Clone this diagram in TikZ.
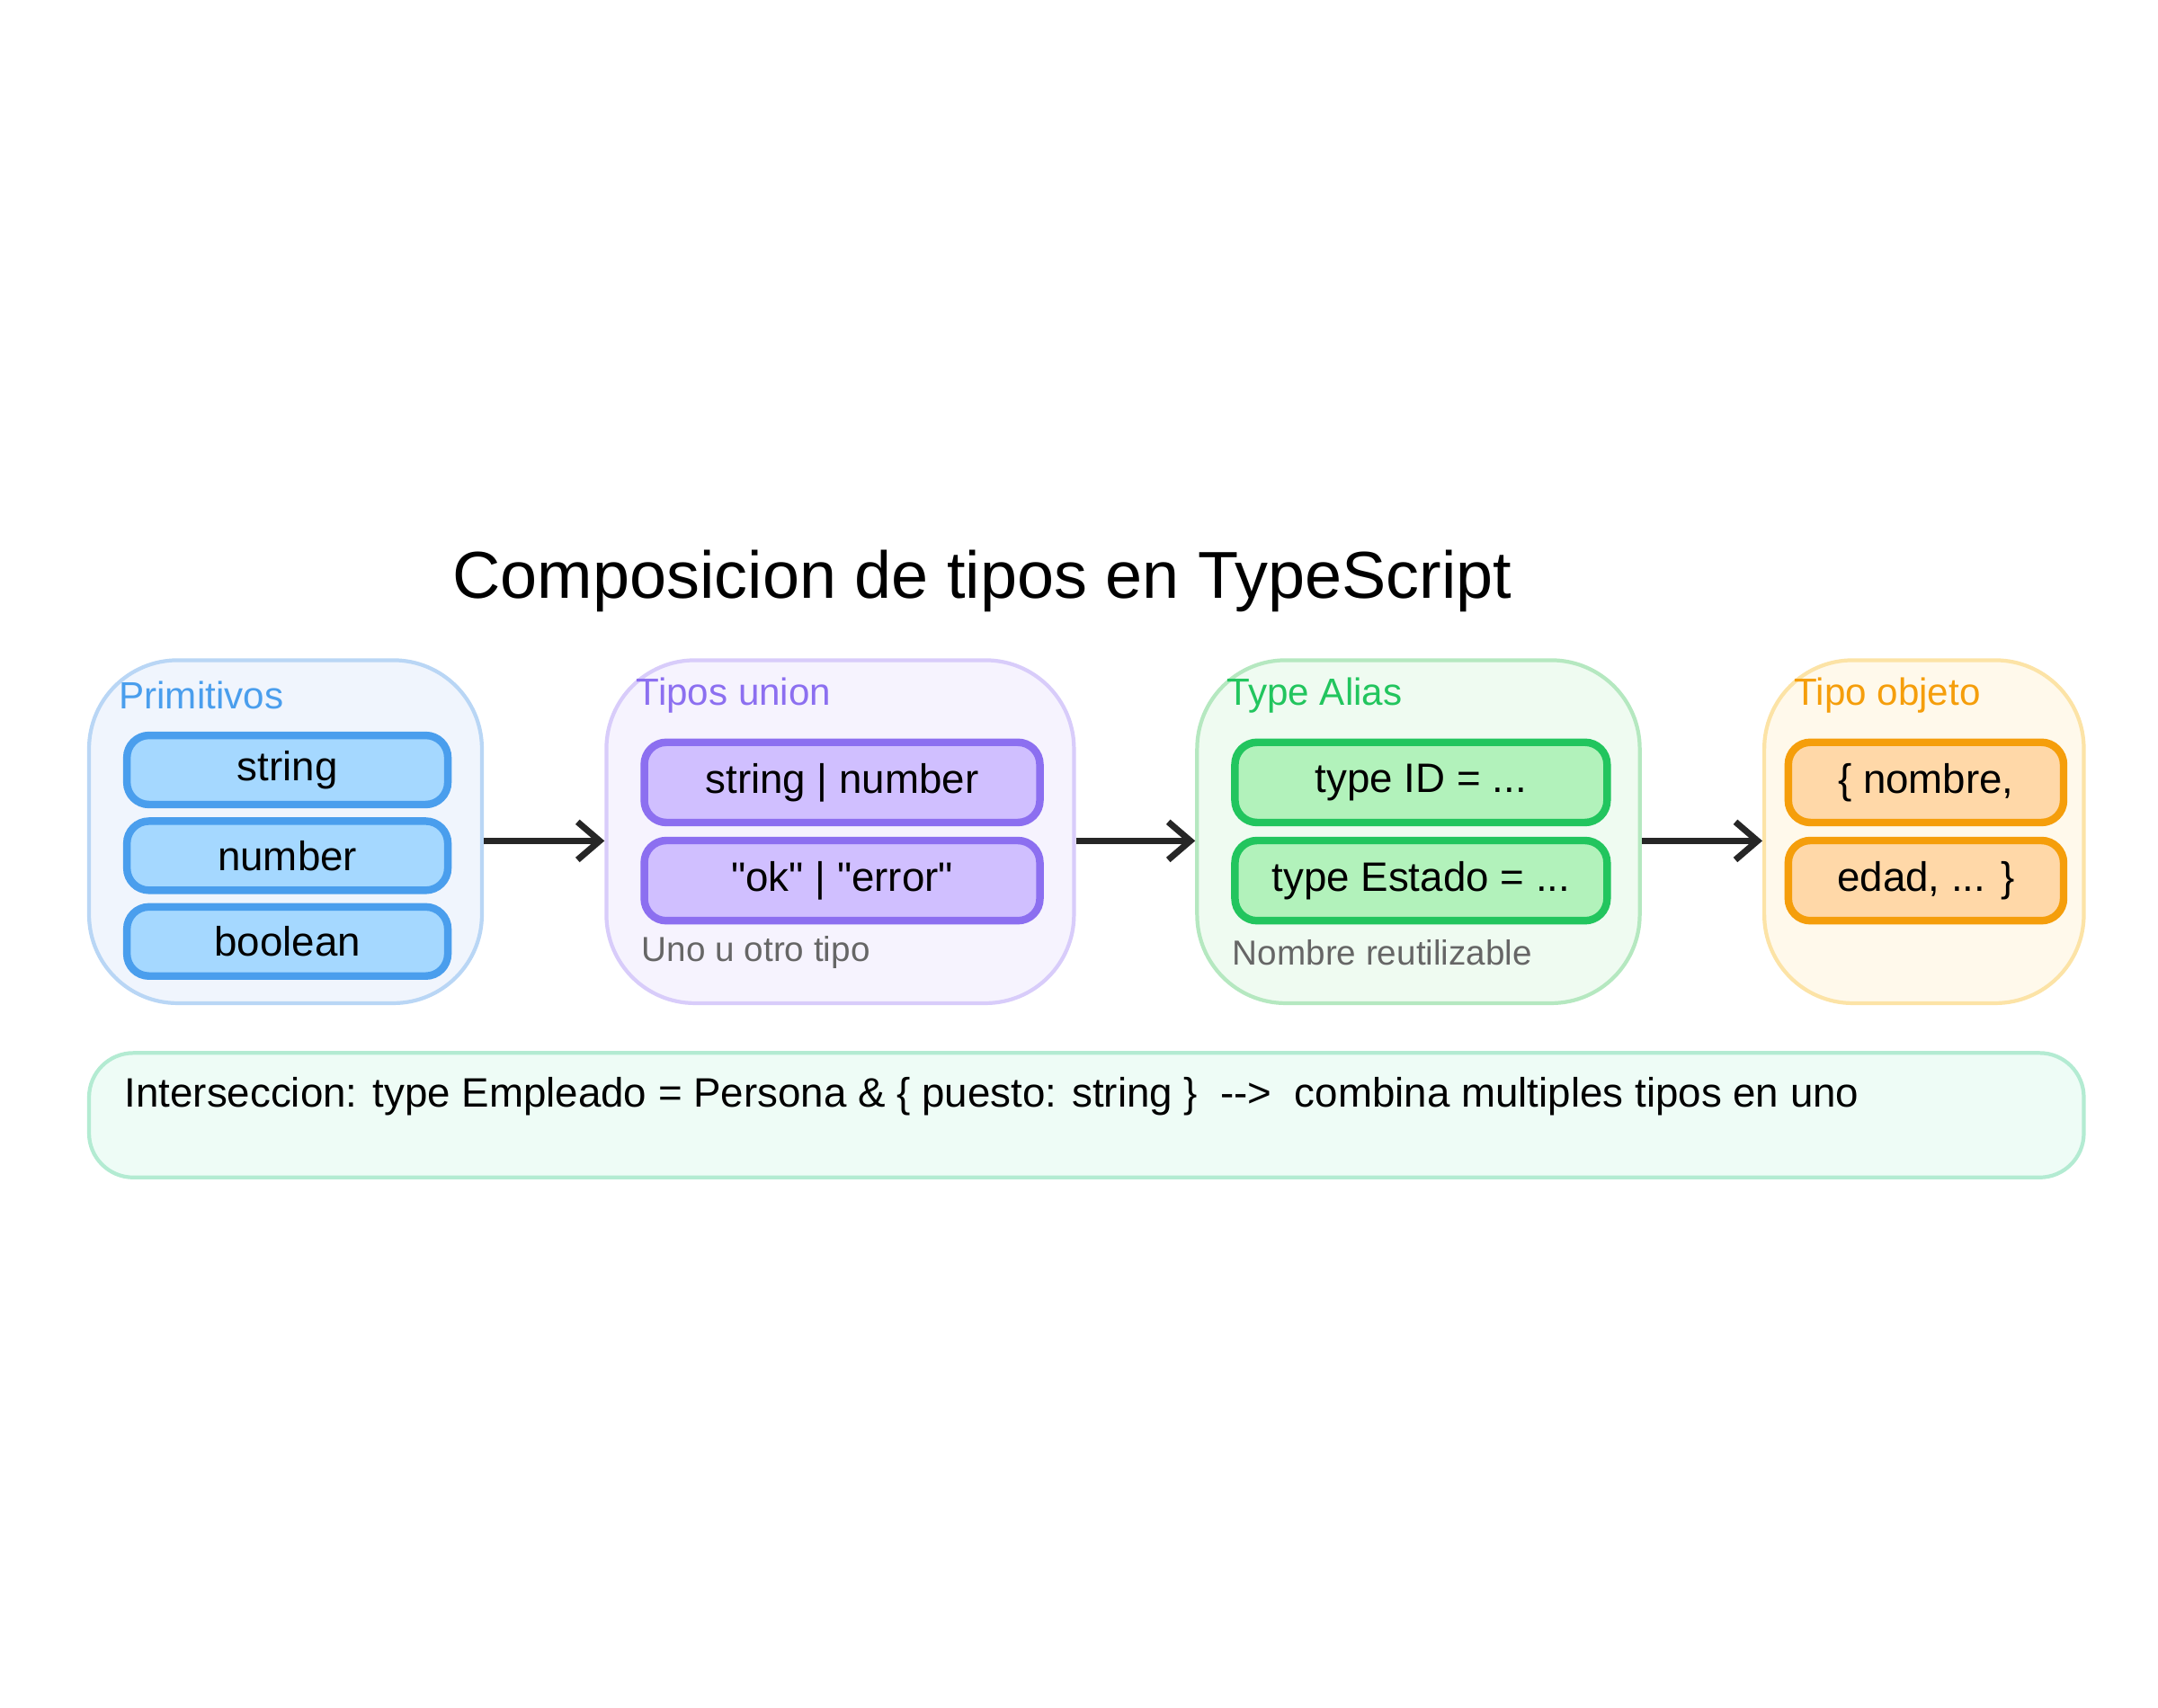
\documentclass[tikz,border=0pt]{standalone}
\usepackage{fontspec}
\setmainfont{Liberation Sans}
\usetikzlibrary{positioning, arrows.meta}
\definecolor{bluefill}{HTML}{A5D8FF}\definecolor{bluedraw}{HTML}{4A9EED}
\definecolor{blueback}{HTML}{F0F5FD}\definecolor{blueedge}{HTML}{B9D6F5}
\definecolor{purpfill}{HTML}{D0BFFF}\definecolor{purpdraw}{HTML}{8C6FF0}
\definecolor{purpback}{HTML}{F6F3FE}\definecolor{purpedge}{HTML}{D8CCFA}
\definecolor{greenfill}{HTML}{B2F2BB}\definecolor{greendraw}{HTML}{22C55E}
\definecolor{greenback}{HTML}{EFFBF1}\definecolor{greenedge}{HTML}{B5E8C0}
\definecolor{orfill}{HTML}{FFD8A8}\definecolor{ordraw}{HTML}{F59E0B}
\definecolor{orback}{HTML}{FFF9EB}\definecolor{oredge}{HTML}{FCE3A6}
\definecolor{mintback}{HTML}{EEFCF6}\definecolor{mintedge}{HTML}{B3EBD2}
\tikzset{
  group/.style={rectangle, rounded corners=28pt, line width=1.2pt, anchor=north west},
  item/.style={rectangle, rounded corners=7pt, line width=2.4pt, anchor=north west, font=\fontsize{13}{15}\selectfont},
  head/.style={anchor=west, font=\fontsize{12}{14}\selectfont},
  note/.style={anchor=west, text=black!60, font=\fontsize{11}{13}\selectfont},
  flow/.style={-{Straight Barb[length=7pt,width=12pt]}, line width=2pt, black!85},
}
\begin{document}
\begin{tikzpicture}[x=0.01538cm, y=-0.01538cm]
  \useasboundingbox (0,0) rectangle (1560,1235);
  \node (title) at (710,420) {\fontsize{21}{25}\selectfont Composicion de tipos en TypeScript};

  % Primitivos
  \node (prim) [group, fill=blueback, draw=blueedge, minimum width=284*0.01538cm, minimum height=248*0.01538cm] at (63,476) {};
  \node (primh) [head, text=bluedraw] at (78,503) {Primitivos};
  \node (s1) [item, fill=bluefill, draw=bluedraw, minimum width=232*0.01538cm, minimum height=50*0.01538cm] at (89,529) {string};
  \node (s2) [item, fill=bluefill, draw=bluedraw, minimum width=232*0.01538cm, minimum height=50*0.01538cm] at (89,591) {number};
  \node (s3) [item, fill=bluefill, draw=bluedraw, minimum width=232*0.01538cm, minimum height=50*0.01538cm] at (89,653) {boolean};

  % Tipos union
  \node (union) [group, fill=purpback, draw=purpedge, minimum width=338*0.01538cm, minimum height=248*0.01538cm] at (437,476) {};
  \node (unionh) [head, text=purpdraw] at (452,503) {Tipos union};
  \node (u1) [item, fill=purpfill, draw=purpdraw, minimum width=286*0.01538cm, minimum height=58*0.01538cm] at (463,534) {string | number};
  \node (u2) [item, fill=purpfill, draw=purpdraw, minimum width=286*0.01538cm, minimum height=58*0.01538cm] at (463,605) {\textquotedbl ok\textquotedbl{} | \textquotedbl error\textquotedbl};
  \node (unionn) [note] at (456,689) {Uno u otro tipo};

  % Type Alias
  \node (alias) [group, fill=greenback, draw=greenedge, minimum width=320*0.01538cm, minimum height=248*0.01538cm] at (864,476) {};
  \node (aliash) [head, text=greendraw] at (879,503) {Type Alias};
  \node (a1) [item, fill=greenfill, draw=greendraw, minimum width=269*0.01538cm, minimum height=58*0.01538cm] at (890,534) {type ID = ...};
  \node (a2) [item, fill=greenfill, draw=greendraw, minimum width=269*0.01538cm, minimum height=58*0.01538cm] at (890,605) {type Estado = ...};
  \node (aliasn) [note] at (883,689) {Nombre reutilizable};

  % Tipo objeto
  \node (obj) [group, fill=orback, draw=oredge, minimum width=231*0.01538cm, minimum height=248*0.01538cm] at (1274,476) {};
  \node (objh) [head, text=ordraw] at (1289,503) {Tipo objeto};
  \node (o1) [item, fill=orfill, draw=ordraw, minimum width=199*0.01538cm, minimum height=58*0.01538cm] at (1290,534) {\{ nombre,};
  \node (o2) [item, fill=orfill, draw=ordraw, minimum width=199*0.01538cm, minimum height=58*0.01538cm] at (1290,605) {edad, ... \}};

  \draw [flow] (prim.east |- 0,608) -- (union.west |- 0,608);
  \draw [flow] (union.east |- 0,608) -- (alias.west |- 0,608);
  \draw [flow] (alias.east |- 0,608) -- (obj.west |- 0,608);

  % Interseccion
  \node (inter) [group, rounded corners=14pt, fill=mintback, draw=mintedge, minimum width=1442*0.01538cm, minimum height=90*0.01538cm] at (63,760) {};
  \node (intert) [anchor=west, font=\fontsize{13}{15}\selectfont] at (82,793) {Interseccion: type Empleado = Persona \& \{ puesto: string \} \ -{}-> \ combina multiples tipos en uno};
\end{tikzpicture}
\end{document}
